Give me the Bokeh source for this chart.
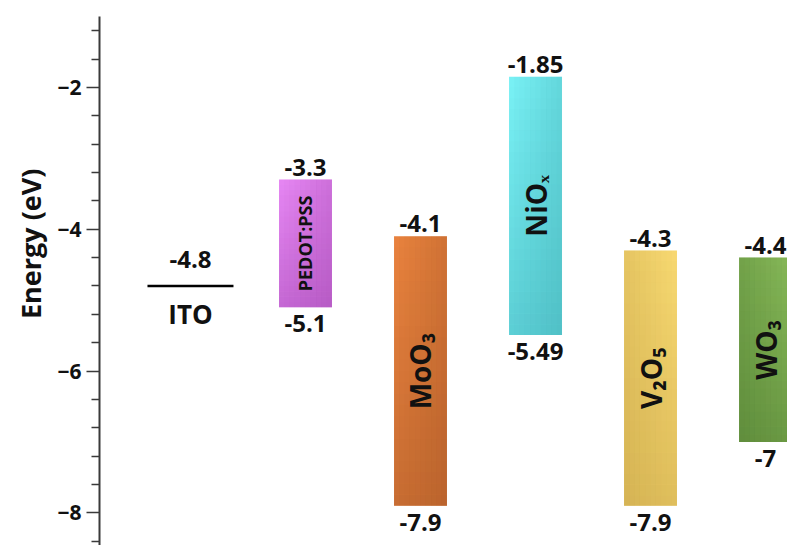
from bokeh.plotting import figure
from bokeh.models import FixedTicker, Range1d, ColumnDataSource, Title
from bokeh.core.properties import value
from bokeh.embed import file_html
from bokeh.resources import INLINE
import math

# ---- data ----
materials = ["ITO", "PEDOT:PSS", "MoO₃", "NiOₓ", "V₂O₅", "WO₃"]
upper_levels = [-4.8, -3.3, -4.1, -1.85, -4.3, -4.4]
lower_levels = [None, -5.1, -7.9, -5.49, -7.9, -7.0]
light_colors = ["#000000", "#e888f4", "#ea843f", "#7af2f6", "#f8da72", "#88ba5a"]
dark_colors = ["#000000", "#9c42ac", "#a05224", "#3aa4ac", "#c29e44", "#4a752c"]
dark_side = [None, "right", "right", "right", "left", "left"]
major_ticks = [-8, -6, -4, -2]
minor_ticks = [-8.4, -7.6, -7.2, -6.8, -6.4, -5.6, -5.2, -4.8, -4.4, -3.6, -3.2, -2.8, -2.4, -1.6, -1.2]

FONT = "Open Sans"
INK = "#111111"
BAR_W = 0.46

p = figure(width=787, height=545, output_backend="svg", toolbar_location=None,
           x_range=Range1d(-0.791, 5.191), y_range=Range1d(-8.46, -1.0),
           min_border_left=99, min_border_top=16, min_border_bottom=0, min_border_right=0)
p.outline_line_color = None
p.xgrid.visible = False
p.ygrid.visible = False
p.xaxis.visible = False

ax = p.yaxis[0]
ax.ticker = FixedTicker(ticks=major_ticks, minor_ticks=minor_ticks)
ax.axis_line_width = 2
ax.axis_line_color = "#3a3a3a"
ax.major_tick_line_color = "#3a3a3a"
ax.major_tick_line_width = 1.5
ax.minor_tick_line_color = "#3a3a3a"
ax.minor_tick_line_width = 1.5
ax.major_tick_out = 13
ax.major_tick_in = 0
ax.minor_tick_out = 8
ax.minor_tick_in = 0
ax.major_label_text_font = FONT
ax.major_label_text_font_style = "bold"
ax.major_label_text_font_size = "21px"
ax.major_label_text_color = INK
ax.major_label_standoff = 5

p.add_layout(Title(text="Energy (eV)", align="right", offset=152,
                   text_font=FONT, text_font_style="bold", text_font_size="27px",
                   text_color=INK, standoff=12), "left")

# ---- bars (all except ITO) with a simple shading ----
idx = list(range(len(materials)))
N_BANDS = 24
N_STRIPS = 10
for i in idx[1:]:
    top, bot = upper_levels[i], lower_levels[i]
    # base
    p.vbar(x=[i], top=[top], bottom=[bot], width=BAR_W,
           fill_color=light_colors[i], line_color=None)
    # vertical darkening (towards bottom)
    h = (bot - top) / N_BANDS
    bt = [top + k * h for k in range(N_BANDS)]
    bb = [top + (k + 1) * h for k in range(N_BANDS)]
    ba = [0.45 * (k + 0.5) / N_BANDS for k in range(N_BANDS)]
    p.vbar(x=[i] * N_BANDS, top=bt, bottom=bb, width=BAR_W,
           fill_color=dark_colors[i], fill_alpha=ba, line_color=None)
    # horizontal darkening (towards the dark side)
    sw = BAR_W / N_STRIPS
    sx = [i - BAR_W / 2 + (j + 0.5) * sw for j in range(N_STRIPS)]
    fr = [(j + 0.5) / N_STRIPS for j in range(N_STRIPS)]
    if dark_side[i] == "left":
        fr = fr[::-1]
    p.vbar(x=sx, top=[top] * N_STRIPS, bottom=[bot] * N_STRIPS, width=sw * 1.02,
           fill_color=dark_colors[i], fill_alpha=[0.35 * f for f in fr], line_color=None)

bars = ColumnDataSource(dict(
    x=idx[1:], top=upper_levels[1:], bottom=lower_levels[1:],
    mid=[(a + b) / 2 for a, b in zip(upper_levels[1:], lower_levels[1:])],
    name=materials[1:],
    top_lbl=[f"{v:g}" for v in upper_levels[1:]],
    bot_lbl=[f"{v:g}" for v in lower_levels[1:]],
    size=["18px", "28px", "28px", "28px", "28px"],
))

# top / bottom values
p.text(x="x", y="top", text="top_lbl", source=bars, text_font=value(FONT),
       text_font_style="bold", text_font_size="24px", text_align="center",
       text_baseline="bottom", y_offset=-4, text_color=INK)
p.text(x="x", y="bottom", text="bot_lbl", source=bars, text_font=value(FONT),
       text_font_style="bold", text_font_size="24px", text_align="center",
       text_baseline="top", y_offset=8, text_color=INK)

# rotated names
p.text(x="x", y="mid", text="name", source=bars, angle=math.pi / 2,
       text_font=value(FONT), text_font_style="bold", text_font_size="size",
       text_align="center", text_baseline="middle", text_color=INK)

# ---- ITO single level ----
ito = ColumnDataSource(dict(x=[idx[0]], y=[upper_levels[0]], name=[materials[0]],
                            lbl=[f"{upper_levels[0]:g}"]))
p.scatter(x="x", y="y", source=ito, marker="dash", size=86, line_width=2.5,
          line_color="#000000")
p.text(x="x", y="y", text="lbl", source=ito, text_font=value(FONT),
       text_font_style="bold", text_font_size="24px", text_align="center",
       text_baseline="bottom", y_offset=-18, text_color=INK)
p.text(x="x", y="y", text="name", source=ito, text_font=value(FONT),
       text_font_style="bold", text_font_size="26px", text_align="center",
       text_baseline="top", y_offset=10, text_color=INK)

open("out.html", "w").write(file_html(p, INLINE))
